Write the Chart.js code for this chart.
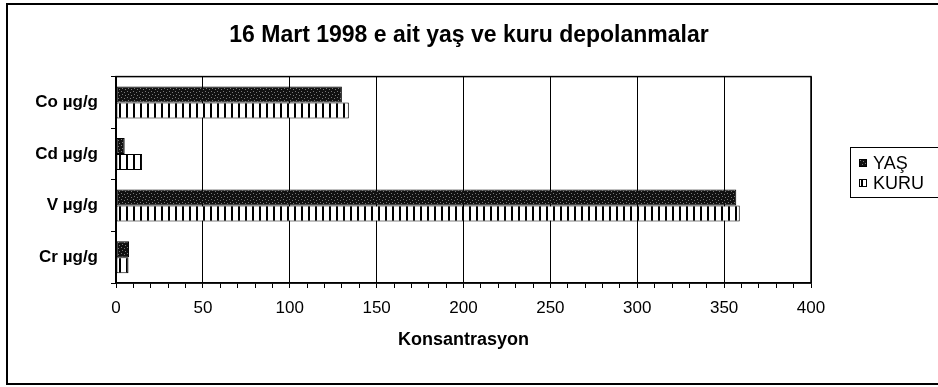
<!DOCTYPE html>
<html>
<head>
<meta charset="utf-8">
<title>16 Mart 1998 e ait yaş ve kuru depolanmalar</title>
<script src="https://cdn.jsdelivr.net/npm/chart.js@4.4.1/dist/chart.umd.min.js"></script>
<style>
  html, body { margin: 0; padding: 0; background: #fff; }
  canvas { display: block; }
</style>
</head>
<body>
<canvas id="chart" width="938" height="387"></canvas>
<script>
// ─── Data ────────────────────────────────────────────────────────────────────
const CATEGORIES  = ["Co µg/g", "Cd µg/g", "V µg/g", "Cr µg/g"];
const SERIES      = ["YAŞ", "KURU"];
const YAS_VALUES  = [130, 5, 357, 7.5];
const KURU_VALUES = [134, 15, 359, 7.2];
const X_MIN = 0, X_MAX = 400, MAJOR_STEP = 50, MINOR_STEP = 10;

const TITLE   = "16 Mart 1998 e ait yaş ve kuru depolanmalar";
const X_TITLE = "Konsantrasyon";

const FONT = "'Liberation Sans', Arial, sans-serif";
Chart.defaults.font.family = FONT;
Chart.defaults.color = "#000";

// ─── Fill patterns ───────────────────────────────────────────────────────────
// dark stipple for the wet deposition bars
function stipplePattern() {
  const c = document.createElement("canvas");
  c.width = 6; c.height = 6;
  const g = c.getContext("2d");
  g.fillStyle = "#111";
  g.fillRect(0, 0, 6, 6);
  g.fillStyle = "#777";
  [[1, 1], [4, 2], [2, 4], [5, 5]].forEach(([x, y]) => g.fillRect(x, y, 1, 1));
  return g.createPattern(c, "repeat");
}

// vertical hatch for the dry deposition bars
function stripePattern() {
  const c = document.createElement("canvas");
  c.width = 7; c.height = 4;
  const g = c.getContext("2d");
  g.fillStyle = "#fff";
  g.fillRect(0, 0, 7, 4);
  g.fillStyle = "#000";
  g.fillRect(0, 0, 2, 4);
  return g.createPattern(c, "repeat");
}

// ─── Plugins ─────────────────────────────────────────────────────────────────
const frame = {
  id: "frame",
  beforeDraw(chart) {
    const { ctx } = chart;
    ctx.save();
    ctx.fillStyle = "#fff";
    ctx.fillRect(0, 0, chart.width, chart.height);
    ctx.restore();
  },
  afterDraw(chart) {
    const { ctx, chartArea: a } = chart;
    ctx.save();
    ctx.strokeStyle = "#000";
    // outer border
    ctx.lineWidth = 2;
    ctx.strokeRect(7, 4, chart.width + 10, 380);
    // plot area box
    ctx.lineWidth = 1.5;
    ctx.strokeRect(a.left, a.top, a.right - a.left, a.bottom - a.top);
    ctx.restore();
  }
};

const legendBox = {
  id: "legendBox",
  afterDraw(chart) {
    const { ctx } = chart;
    const left = 850, top = 147;
    ctx.save();
    ctx.strokeStyle = "#000";
    ctx.lineWidth = 1;
    ctx.strokeRect(left + 0.5, top + 0.5, 120, 50);
    ctx.font = "18px " + FONT;
    ctx.textBaseline = "middle";
    chart.data.datasets.forEach((ds, i) => {
      const y = top + 16 + i * 20;
      ctx.fillStyle = ds.backgroundColor;
      ctx.fillRect(left + 9, y - 4, 8, 8);
      ctx.strokeRect(left + 9.5, y - 3.5, 7, 7);
      ctx.fillStyle = "#000";
      ctx.fillText(ds.label, left + 23, y + 1);
    });
    ctx.restore();
  }
};

// ─── Chart ───────────────────────────────────────────────────────────────────
new Chart(document.getElementById("chart"), {
  type: "bar",
  data: {
    labels: CATEGORIES,
    datasets: [
      { label: SERIES[0], data: YAS_VALUES,  backgroundColor: stipplePattern(),
        borderColor: "#000", borderWidth: 1, borderSkipped: false, yAxisID: "y", xAxisID: "x" },
      { label: SERIES[1], data: KURU_VALUES, backgroundColor: stripePattern(),
        borderColor: "#000", borderWidth: 1, borderSkipped: false, yAxisID: "y", xAxisID: "x" }
    ]
  },
  options: {
    indexAxis: "y",
    responsive: false,
    animation: false,
    devicePixelRatio: 1,
    layout: { padding: 0 },
    datasets: { bar: { barPercentage: 1, categoryPercentage: 0.62 } },
    plugins: {
      legend: { display: false },
      tooltip: { enabled: false },
      title: {
        display: true,
        text: TITLE,
        color: "#000",
        font: { size: 23, weight: "bold" },
        padding: { top: 22, bottom: 27 }
      }
    },
    scales: {
      x: {
        min: X_MIN,
        max: X_MAX,
        ticks: {
          stepSize: MINOR_STEP,
          autoSkip: false,
          maxRotation: 0,
          padding: 10,
          font: { size: 17 },
          callback: v => (v % MAJOR_STEP === 0 ? v : "")
        },
        grid: {
          color: c => (c.tick && c.tick.value % MAJOR_STEP === 0 ? "#000" : "rgba(0,0,0,0)"),
          tickColor: "#000",
          tickLength: 5,
          lineWidth: 1
        },
        border: { color: "#000", width: 1.5 },
        title: {
          display: true,
          text: X_TITLE,
          font: { size: 18, weight: "bold" },
          padding: { top: 0, bottom: 36 }
        },
        afterFit: s => { s.height = 104; }
      },
      y: {
        position: "left",
        ticks: { padding: 13, font: { size: 17, weight: "bold" } },
        grid: { color: "rgba(0,0,0,0)", tickColor: "#000", tickLength: 5 },
        border: { color: "#000", width: 1.5 },
        afterFit: s => { s.width = 116; }
      },
      // empty strip on the right that keeps room for the legend
      gap: {
        type: "linear",
        position: "right",
        display: true,
        ticks: { display: false },
        grid: { display: false, drawTicks: false },
        border: { display: false },
        afterFit: s => { s.width = 127; }
      }
    }
  },
  plugins: [frame, legendBox]
});
</script>
</body>
</html>
